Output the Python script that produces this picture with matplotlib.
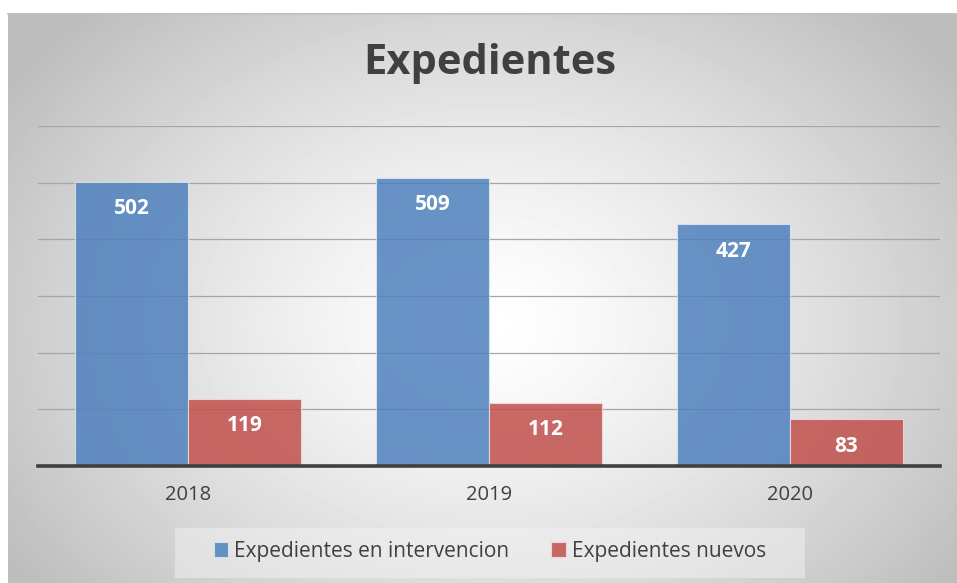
import numpy as np
import matplotlib
matplotlib.use("Agg")
import matplotlib.pyplot as plt

years = ["2018", "2019", "2020"]
en_intervencion = [502, 509, 427]
nuevos = [119, 112, 83]
series_names = ["Expedientes en intervencion", "Expedientes nuevos"]
title = "Expedientes"

W, H = 957, 583
fig = plt.figure(figsize=(W / 100, H / 100), dpi=100)
fig.patch.set_facecolor("white")

# radial gradient backdrop for the chart frame
bg = fig.add_axes([8 / W, 0, 1 - 8 / W, 1 - 13 / H])
yy, xx = np.mgrid[0:570, 0:949]
d = np.sqrt(((xx - 480) / 560) ** 2 + ((yy - 310) / 420) ** 2)
shade = np.clip(1 - 0.25 * d ** 1.3, 0.74, 1)
bg.imshow(shade, cmap="gray", vmin=0, vmax=1, aspect="auto", interpolation="bilinear")
bg.axis("off")
fig.add_artist(plt.Line2D([8 / W, 1], [1 - 13.5 / H] * 2, color="#c0c0c0", lw=1.2))

fam = ["Open Sans", "DejaVu Sans"]
ax = fig.add_axes([38 / W, 1 - 466 / H, 902 / W, 340 / H])
ax.patch.set_alpha(0)
x = np.arange(len(years))
bw = 0.376
b1 = ax.bar(x - bw / 2, en_intervencion, bw, color="#4f81bd", alpha=0.85,
            edgecolor="#dce6f2", linewidth=0.8, zorder=3)
b2 = ax.bar(x + bw / 2, nuevos, bw, color="#c0504d", alpha=0.85,
            edgecolor="#f2dcdb", linewidth=0.8, zorder=3)
for bars in (b1, b2):
    for r in bars:
        ax.text(r.get_x() + r.get_width() / 2, r.get_height() - 48, f"{int(r.get_height())}",
                ha="center", va="center", color="white", fontsize=15, fontweight="bold",
                family=fam, zorder=4)

ax.set_xlim(-0.5, 2.5)
ax.set_ylim(0, 600)
ax.set_yticks(range(100, 601, 100))
ax.yaxis.grid(True, color="#a6a6a6", lw=0.9, zorder=0)
ax.tick_params(left=False, labelleft=False, bottom=False)
ax.set_xticks(x)
ax.set_xticklabels(years, fontsize=14.5, color="#404040", family=fam)
ax.tick_params(axis="x", pad=10)
for s in ["top", "right", "left"]:
    ax.spines[s].set_visible(False)
ax.spines["bottom"].set_color("#404040")
ax.spines["bottom"].set_linewidth(2.6)
ax.spines["bottom"].set_zorder(5)

fig.text(490 / W, 1 - 64 / H, title, ha="center", va="center", fontsize=30,
         fontweight="bold", color="#404040", family=fam)

# legend band
band = plt.Rectangle((175 / W, 1 - 578 / H), 630 / W, 50 / H, transform=fig.transFigure,
                     facecolor="#f2f2f2", alpha=0.5, edgecolor="none")
fig.add_artist(band)
leg = fig.legend([b1, b2], series_names, loc="center", bbox_to_anchor=(490 / W, 1 - 551 / H),
                 ncol=2, frameon=False, handlelength=0.7, handleheight=0.7,
                 handletextpad=0.3, columnspacing=2.0, prop={"family": fam, "size": 15})
for t in leg.get_texts():
    t.set_color("#404040")

fig.savefig("out.png", dpi=100)
